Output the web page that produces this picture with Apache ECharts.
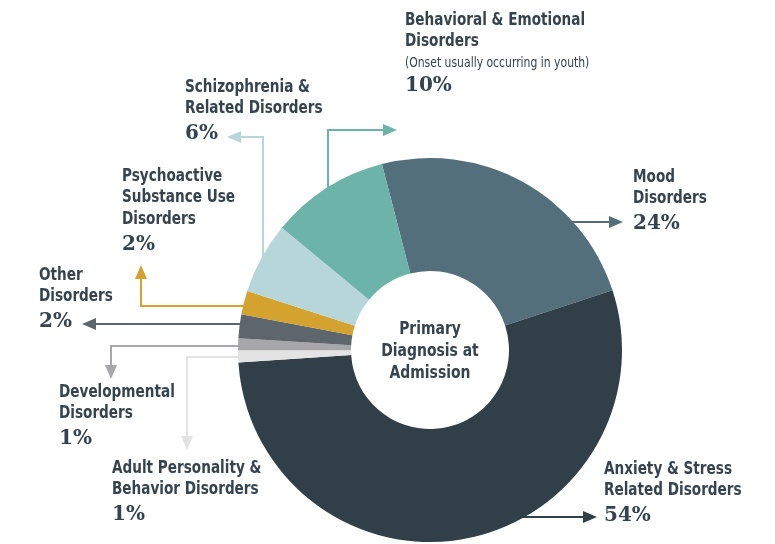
<!DOCTYPE html>
<html>
<head>
<meta charset="utf-8">
<script src="https://cdn.jsdelivr.net/npm/echarts@6/dist/echarts.min.js"></script>
<style>
  html, body { margin: 0; padding: 0; background: #fff; }
  #chart { width: 775px; height: 544px; }
</style>
</head>
<body>
<div id="chart"></div>
<script>
// slices, clockwise from the top
const categories = [
  'Mood Disorders',
  'Anxiety & Stress Related Disorders',
  'Adult Personality & Behavior Disorders',
  'Developmental Disorders',
  'Other Disorders',
  'Psychoactive Substance Use Disorders',
  'Schizophrenia & Related Disorders',
  'Behavioral & Emotional Disorders',
];
const values = [24, 54, 1, 1, 2, 2, 6, 10];
const labelLines = [
  ['Mood', 'Disorders'],
  ['Anxiety & Stress', 'Related Disorders'],
  ['Adult Personality &', 'Behavior Disorders'],
  ['Developmental', 'Disorders'],
  ['Other', 'Disorders'],
  ['Psychoactive', 'Substance Use', 'Disorders'],
  ['Schizophrenia &', 'Related Disorders'],
  ['Behavioral & Emotional', 'Disorders'],
];
const notes = ['', '', '', '', '', '', '', '(Onset usually occurring in youth)'];
const colors = ['#536f7c', '#313f48', '#e3e3e3', '#a7a7ab', '#5e666d', '#d4a22e', '#b7d6da', '#6cb3a9'];
const centerTitle = ['Primary', 'Diagnosis at', 'Admission'];

// annotation layout: label anchor and arrow path (last point = arrow tip)
const layout = [
  { x: 633, y: 177, path: [[560, 222], [623, 222]] },
  { x: 604, y: 469, path: [[505, 517], [597, 517]] },
  { x: 112, y: 468, path: [[250, 357], [187, 357], [187, 450]] },
  { x: 59, y: 392, path: [[250, 346], [111, 346], [111, 379]] },
  { x: 39, y: 275, path: [[250, 324], [82, 324]] },
  { x: 122, y: 176, path: [[250, 306], [141, 306], [141, 265]] },
  { x: 185, y: 87, path: [[263, 265], [263, 137], [227, 137]] },
  { x: 405, y: 20, path: [[328, 200], [328, 130], [397, 130]] },
];

const textColor = '#34434d';
const nameFont = '"DejaVu Sans Condensed", "DejaVu Sans", sans-serif';
const pctFont = '"DejaVu Serif", serif';
const squeeze = 0.84;

const graphics = [];

const addText = (x, y, text, font, scaleX, align) => {
  graphics.push({
    type: 'text',
    x: x,
    y: y,
    scaleX: scaleX,
    style: {
      text: text,
      fill: textColor,
      font: font,
      textAlign: align || 'left',
      textVerticalAlign: 'middle',
    },
    z: 6,
  });
};

layout.forEach((item, i) => {
  const pts = item.path;
  const tip = pts[pts.length - 1];
  const prev = pts[pts.length - 2];
  const dx = Math.sign(tip[0] - prev[0]);
  const dy = Math.sign(tip[1] - prev[1]);
  const headLen = 14;
  const headW = 6;
  const base = [tip[0] - dx * headLen, tip[1] - dy * headLen];
  const linePts = pts.slice(0, -1).concat([base]);
  graphics.push({
    type: 'polyline',
    shape: { points: linePts },
    style: { stroke: colors[i], lineWidth: 2, fill: null },
    z: 5,
  });
  graphics.push({
    type: 'polygon',
    shape: {
      points: [
        tip,
        [base[0] - dy * headW, base[1] + dx * headW],
        [base[0] + dy * headW, base[1] - dx * headW],
      ],
    },
    style: { fill: colors[i] },
    z: 5,
  });

  let y = item.y;
  labelLines[i].forEach((line) => {
    addText(item.x, y, line, 'bold 18px ' + nameFont, squeeze);
    y += 21.5;
  });
  if (notes[i]) {
    addText(item.x, y, notes[i], '14px ' + nameFont, 0.86);
    y += 23;
  } else {
    y += 4;
  }
  addText(item.x, y, values[i] + '%', 'bold 20px ' + pctFont, 1);
});

centerTitle.forEach((line, i) => {
  addText(430, 329 + i * 22, line, 'bold 18px ' + nameFont, 0.86, 'center');
});

const chart = echarts.init(document.getElementById('chart'));
chart.setOption({
  animation: false,
  color: colors,
  series: [
    {
      type: 'pie',
      center: [430, 350],
      radius: [79, 192],
      startAngle: 104.5,
      clockwise: true,
      avoidLabelOverlap: false,
      label: { show: false },
      labelLine: { show: false },
      itemStyle: { borderWidth: 0 },
      emphasis: { disabled: true },
      data: categories.map((name, i) => ({ name: name, value: values[i] })),
    },
  ],
  graphic: graphics,
});
</script>
</body>
</html>
